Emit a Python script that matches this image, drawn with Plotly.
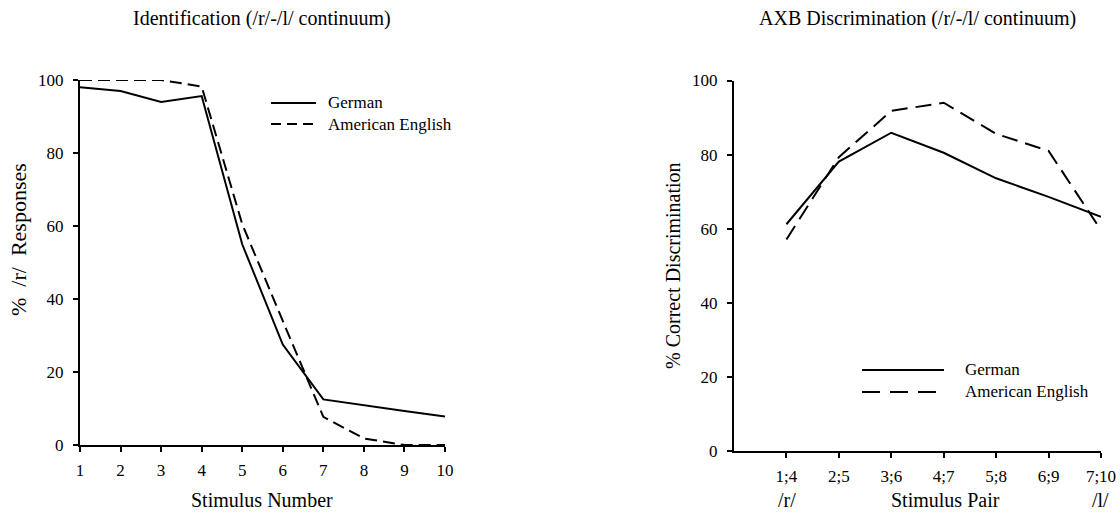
import plotly.graph_objects as go

# ---------------- data ----------------
stimulus_number = [1, 2, 3, 4, 5, 6, 7, 8, 9, 10]
ident_german = [98.0, 97.0, 94.0, 95.6, 55.0, 27.5, 12.5, 10.8, 9.3, 7.8]
ident_american = [100.0, 100.0, 100.0, 98.2, 60.5, 34.0, 7.7, 1.8, 0.0, 0.0]

pair_labels = ["1;4", "2;5", "3;6", "4;7", "5;8", "6;9", "7;10"]
pair_pos = [1, 2, 3, 4, 5, 6, 7]
disc_german = [61.2, 78.1, 85.9, 80.5, 73.6, 68.6, 63.2]
disc_american = [57.1, 79.3, 91.8, 94.0, 85.6, 81.0, 59.6]

y_ticks = [0, 20, 40, 60, 80, 100]

W, H = 1120, 515
FONT = "Liberation Serif"


def px(x):
    return x / W


def py(y):
    return 1 - y / H


fig = go.Figure()

fig.add_trace(go.Scatter(x=stimulus_number, y=ident_german, mode="lines",
                         line=dict(color="black", width=2), name="German",
                         xaxis="x", yaxis="y", showlegend=False, cliponaxis=False))
fig.add_trace(go.Scatter(x=stimulus_number, y=ident_american, mode="lines",
                         line=dict(color="black", width=2, dash="12px,6px"),
                         name="American English", xaxis="x", yaxis="y",
                         showlegend=False, cliponaxis=False))
fig.add_trace(go.Scatter(x=pair_pos, y=disc_german, mode="lines",
                         line=dict(color="black", width=2), name="German",
                         xaxis="x2", yaxis="y2", showlegend=False, cliponaxis=False))
fig.add_trace(go.Scatter(x=pair_pos, y=disc_american, mode="lines",
                         line=dict(color="black", width=2, dash="16px,8px"),
                         name="American English", xaxis="x2", yaxis="y2",
                         showlegend=False, cliponaxis=False))

axis_common = dict(showgrid=False, zeroline=False, showline=True, linecolor="black",
                   linewidth=2, ticks="outside", ticklen=5, tickwidth=1.5,
                   tickcolor="black", automargin=False,
                   tickfont=dict(family=FONT, size=17, color="black"))

fig.update_layout(
    width=W, height=H,
    margin=dict(l=0, r=0, t=0, b=0, autoexpand=False),
    paper_bgcolor="white", plot_bgcolor="white",
    showlegend=False,
    font=dict(family=FONT, color="black"),
    xaxis=dict(domain=[px(80), px(445)], range=[1, 10], tickvals=stimulus_number,
               anchor="y", ticklabelstandoff=4, **axis_common),
    yaxis=dict(domain=[py(445), py(80)], range=[0, 100], tickvals=y_ticks,
               anchor="x", ticklabelstandoff=6, **axis_common),
    xaxis2=dict(domain=[px(734), px(1101)], range=[0, 7], tickvals=pair_pos,
                ticktext=pair_labels, anchor="y2", ticklabelstandoff=4, **axis_common),
    yaxis2=dict(domain=[py(451), py(80.5)], range=[0, 100], tickvals=y_ticks,
                anchor="x2", ticklabelstandoff=6, **axis_common),
)

ann = []


def text(x, y, s, size=20, angle=0, xanchor="center"):
    ann.append(dict(x=px(x), y=py(y), xref="paper", yref="paper", text=s,
                    showarrow=False, textangle=angle, xanchor=xanchor, yanchor="middle",
                    font=dict(family=FONT, size=size, color="black")))


# titles
text(262, 18, "Identification (/r/-/l/ continuum)", size=20)
text(917, 18, "AXB Discrimination (/r/-/l/ continuum)", size=20)
# axis titles
text(262, 500, "Stimulus Number", size=20)
text(18, 240, "%&nbsp;&nbsp;/r/&nbsp;&nbsp;Responses", size=22, angle=-90)
text(945, 500, "Stimulus Pair", size=20)
text(787, 500, "/r/", size=20)
text(1100, 500, "/l/", size=20)
text(673, 266, "% Correct Discrimination", size=20, angle=-90)

# legends
text(326, 103, "German", size=17, xanchor="left")
text(326, 124, "American English", size=17, xanchor="left")
text(963, 369, "German", size=17, xanchor="left")
text(963, 391, "American English", size=17, xanchor="left")
fig.update_layout(annotations=ann)

shapes = [
    dict(type="line", xref="paper", yref="paper", x0=px(271), x1=px(316), y0=py(103), y1=py(103),
         line=dict(color="black", width=2)),
    dict(type="line", xref="paper", yref="paper", x0=px(271), x1=px(316), y0=py(124), y1=py(124),
         line=dict(color="black", width=2, dash="10px,6px")),
    dict(type="line", xref="paper", yref="paper", x0=px(862), x1=px(944), y0=py(370), y1=py(370),
         line=dict(color="black", width=2)),
    dict(type="line", xref="paper", yref="paper", x0=px(862), x1=px(936), y0=py(392), y1=py(392),
         line=dict(color="black", width=2, dash="18px,10px")),
]
fig.update_layout(shapes=shapes)

fig.write_html("out.html")
